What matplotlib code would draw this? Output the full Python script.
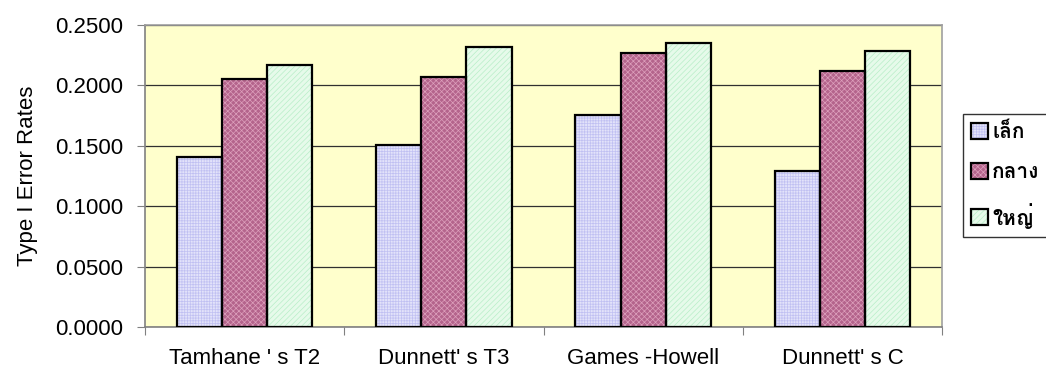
import numpy as np
import matplotlib
matplotlib.use("Agg")
from matplotlib import pyplot as plt
from matplotlib import font_manager
from matplotlib.ft2font import FT2Font
from matplotlib.legend_handler import HandlerTuple

methods = ["Tamhane ' s T2", "Dunnett' s T3", "Games -Howell", "Dunnett' s C"]
sizes = ["เล็ก", "กลาง", "ใหญ่"]
small = [0.1410, 0.1504, 0.1755, 0.1289]
medium = [0.2053, 0.2067, 0.2270, 0.2122]
large = [0.2169, 0.2315, 0.2353, 0.2285]
yticks = [0.0, 0.05, 0.10, 0.15, 0.20, 0.25]


def find_thai_font():
    # pick any installed font that has Thai glyphs
    for f in font_manager.fontManager.ttflist:
        try:
            if ord("ก") in FT2Font(f.fname).get_charmap():
                return f.name
        except Exception:
            pass
    return None


thai = find_thai_font()
families = ["Liberation Sans", "DejaVu Sans"]
if thai:
    families = ["Liberation Sans", thai, "DejaVu Sans"]
plt.rcParams["font.family"] = families
plt.rcParams["hatch.linewidth"] = 0.5

fig = plt.figure(figsize=(10.46, 3.74), dpi=100)
ax = fig.add_axes([145 / 1046, 1 - 327 / 374, 797 / 1046, 302 / 374])
ax.set_facecolor("#FFFFCC")

x = np.arange(len(methods))
w = 0.227
series = [small, medium, large]
faces = ["#E2E2FA", "#B4648C", "#E6FAEA"]
hatches = ["++++++", "xxxxxx", "//////"]
hatch_cols = ["#C0C0F2", "#DDA0BC", "#B8EEC8"]

handles = []
for i, vals in enumerate(series):
    pos = x + (i - 1) * w
    b1 = ax.bar(pos, vals, w, color=faces[i], zorder=2, linewidth=0)
    b2 = ax.bar(pos, vals, w, color="none", hatch=hatches[i], edgecolor=hatch_cols[i],
                linewidth=0, zorder=3)
    b3 = ax.bar(pos, vals, w, color="none", edgecolor="black", linewidth=1.6, zorder=4)
    handles.append((b1[0], b2[0], b3[0]))

ax.set_xlim(-0.5, len(methods) - 0.5)
ax.set_ylim(0, 0.25)
ax.set_yticks(yticks)
ax.set_yticklabels([f"{v:.4f}" for v in yticks], fontsize=16)
ax.yaxis.grid(True, color="#303030", linewidth=0.9, zorder=1)
ax.set_axisbelow(True)

ax.set_xticks(np.arange(-0.5, len(methods), 1.0))
ax.set_xticklabels([])
ax.set_xticks(x, minor=True)
ax.set_xticklabels(methods, minor=True, fontsize=16)
ax.tick_params(axis="x", which="minor", length=0, pad=15)
ax.tick_params(axis="x", which="major", length=6, color="#808080")
ax.tick_params(axis="y", length=6, color="#808080", pad=10)

for s in ["top", "right"]:
    ax.spines[s].set_color("#A0A0A0")
    ax.spines[s].set_linewidth(1.2)
for s in ["left", "bottom"]:
    ax.spines[s].set_color("#808080")
    ax.spines[s].set_linewidth(1.2)

ax.set_ylabel("Type I Error Rates", fontsize=16, labelpad=12)

leg = fig.legend(handles, sizes, handler_map={tuple: HandlerTuple(ndivide=1)},
                 loc="upper left", bbox_to_anchor=(963 / 1046, 1 - 114 / 374),
                 prop={"size": 15, "weight": "bold"}, frameon=True, fancybox=False,
                 edgecolor="black", handlelength=0.8, handleheight=0.8,
                 handletextpad=0.2, borderpad=0.4, labelspacing=1.0, borderaxespad=0)
leg.get_frame().set_linewidth(1.0)

plt.savefig("out.png", dpi=100, facecolor="white")
plt.close()
